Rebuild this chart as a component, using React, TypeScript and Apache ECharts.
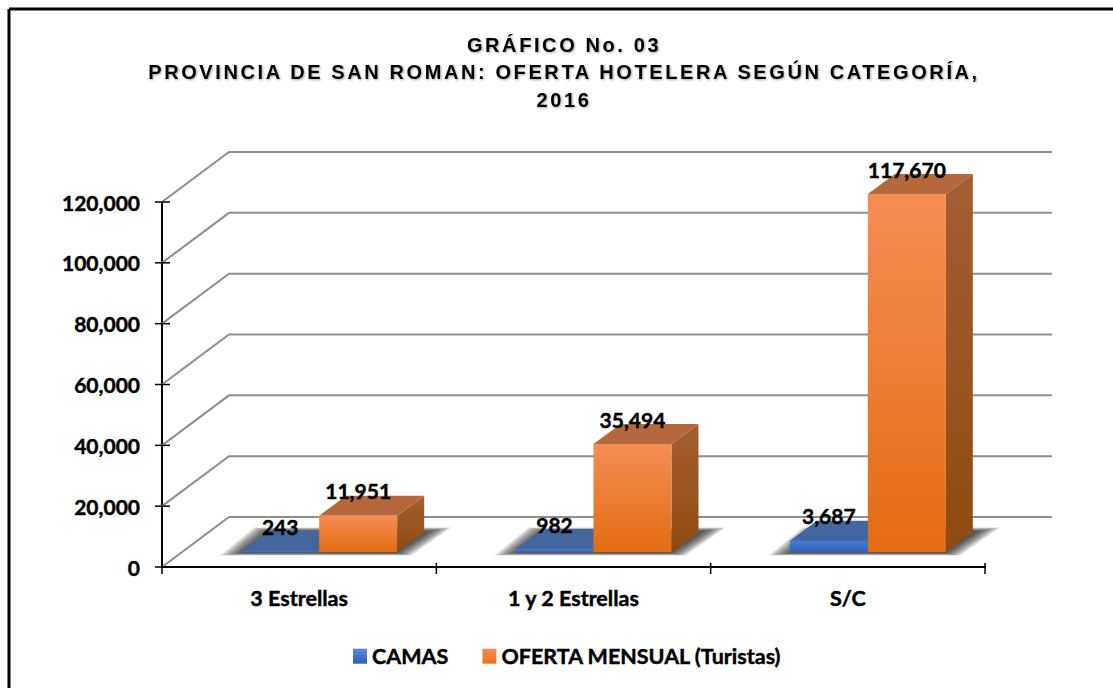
import React, { useEffect, useRef } from "react";
import * as echarts from "echarts";

const categories = ["3 Estrellas", "1 y 2 Estrellas", "S/C"];
const camas = [243, 982, 3687];
const oferta = [11951, 35494, 117670];
const yTicks = [0, 20000, 40000, 60000, 80000, 100000, 120000];
const titleLines = [
  "GRÁFICO No. 03",
  "PROVINCIA DE SAN ROMAN: OFERTA HOTELERA SEGÚN CATEGORÍA,",
  "2016",
];
const seriesNames = ["CAMAS", "OFERTA MENSUAL (Turistas)"];

const FONT = "Lato";
const DEPTH_X = 67;
const DEPTH_Y = -50;
const BAR_W = 78;
const BASE_DX = 20;
const BASE_DY = -15;
const BAR_DX = 27;
const BAR_DY = -20;
const GRID_COLOR = "#8e8e8e";
const SHADOW_LAYERS = [7, 6, 5, 4, 3, 2, 1, 0];
const heavy = { textBorderColor: "#000", textBorderWidth: 0.45 };

const lg = (a: string, b: string, horizontal = false) =>
  new echarts.graphic.LinearGradient(0, 0, horizontal ? 1 : 0, horizontal ? 0 : 1, [
    { offset: 0, color: a },
    { offset: 1, color: b },
  ]);

const palette = [
  {
    front: () => lg("#4a7bd4", "#2f62bb"),
    top: () => "#44669f",
    side: () => lg("#3c5c96", "#2f4f88"),
    legend: () => lg("#5b86d8", "#2c5fb8"),
  },
  {
    front: () => lg("#f58d54", "#e36c12"),
    top: () => "#b5683c",
    side: () => lg("#a55f33", "#8f4a10"),
    legend: () => lg("#f58d54", "#ee7018"),
  },
];

function frameItem(_: any, api: any) {
  const tick = api.value(0);
  const [x0, y] = api.coord([0, tick]);
  const band = api.size([1, 0])[0];
  const left = x0 - band / 2;
  const right = left + band * categories.length;
  const children: any[] = [
    {
      type: "polyline",
      shape: {
        points: [
          [left, y],
          [left + DEPTH_X, y + DEPTH_Y],
          [right + DEPTH_X, y + DEPTH_Y],
        ],
      },
      style: { stroke: GRID_COLOR, lineWidth: 2, fill: "none" },
    },
    {
      type: "line",
      z2: 30,
      shape: { x1: left - 7, y1: y, x2: left + 8, y2: y },
      style: { stroke: "#000", lineWidth: 1.5 },
    },
  ];
  return { type: "group", children };
}

function xTickItem(_: any, api: any) {
  const i = api.value(0);
  const [cx, y] = api.coord([i, 0]);
  const band = api.size([1, 0])[0];
  const x = cx - band / 2;
  const lines = [x];
  if (i === categories.length - 1) lines.push(x + band);
  return {
    type: "group",
    children: lines.map((lx) => ({
      type: "line",
      shape: { x1: lx, y1: y - 4, x2: lx, y2: y + 7 },
      style: { stroke: "#000", lineWidth: 1.5 },
    })),
  };
}

function shadowItem(_: any, api: any) {
  const [cx, y0] = api.coord([api.value(0), 0]);
  const bx = cx + BASE_DX;
  const by = y0 + BASE_DY;
  return {
    type: "group",
    children: SHADOW_LAYERS.map((k) => ({
      type: "polygon",
      shape: {
        points: [
          [bx - BAR_W - k * 3, by + 1 + k * 0.35],
          [bx - BAR_W + BAR_DX - k * 2, by + BAR_DY - 1 - k * 0.5],
          [bx + BAR_W + BAR_DX + 6 + k * 3, by + BAR_DY - 1 - k * 0.5],
          [bx + BAR_W + k * 2, by + 1 + k * 0.35],
        ],
      },
      style: { fill: "rgba(20,20,20,0.14)" },
    })),
  };
}

const barItem = (idx: number) => (_: any, api: any) => {
  const cat = api.value(0);
  const v = api.value(1);
  const [cx, y0] = api.coord([cat, 0]);
  const yv = api.coord([cat, v])[1];
  const x0 = cx + BASE_DX + (idx === 0 ? -BAR_W : 0);
  const x1 = x0 + BAR_W;
  const yb = y0 + BASE_DY;
  const yt = yv + BASE_DY;
  const c = palette[idx];
  return {
    type: "group",
    children: [
      {
        type: "polygon",
        shape: { points: [[x1, yb], [x1 + BAR_DX, yb + BAR_DY], [x1 + BAR_DX, yt + BAR_DY], [x1, yt]] },
        style: { fill: c.side() },
      },
      {
        type: "polygon",
        shape: { points: [[x0, yt], [x0 + BAR_DX, yt + BAR_DY], [x1 + BAR_DX, yt + BAR_DY], [x1, yt]] },
        style: { fill: c.top() },
      },
      {
        type: "rect",
        shape: { x: x0, y: yt, width: BAR_W, height: Math.max(yb - yt, 1) },
        style: { fill: c.front() },
      },
      {
        type: "text",
        z2: 40,
        style: {
          x: (x0 + x1) / 2,
          y: yt - 25,
          text: v.toLocaleString("en-US"),
          fill: "#000",
          stroke: "#000",
          lineWidth: 0.45,
          font: `bold 21px ${FONT}`,
          align: "center",
          verticalAlign: "middle",
        },
      },
    ],
  };
};

export default function App() {
  const ref = useRef<HTMLDivElement>(null);
  useEffect(() => {
    const chart = echarts.init(ref.current!, undefined, { renderer: "svg" });
    chart.setOption({
      animation: false,
      backgroundColor: "#fff",
      title: {
        text: titleLines.join("\n"),
        left: 559,
        textAlign: "center",
        top: 26,
        textStyle: {
          fontFamily: "Liberation Sans",
          fontWeight: "bold",
          fontSize: 20,
          lineHeight: 27.5,
          color: "#000",
          textShadowColor: "rgba(0,0,0,0.35)",
          textShadowBlur: 2,
          textShadowOffsetX: 1,
          textShadowOffsetY: 1,
        },
      },
      legend: {
        left: 353,
        top: 645,
        padding: 0,
        itemWidth: 14,
        itemHeight: 15,
        itemGap: 34,
        icon: "rect",
        textStyle: { fontFamily: FONT, fontWeight: "bold", fontSize: 21.5, color: "#000", ...heavy },
        data: seriesNames.map((name, i) => ({ name, itemStyle: { color: palette[i].legend() } })),
      },
      grid: { left: 162, right: 128, top: 202, height: 365 },
      xAxis: {
        type: "category",
        data: categories,
        axisLine: { lineStyle: { color: "#000", width: 2 } },
        axisTick: { show: false },
        axisLabel: { fontFamily: FONT, fontWeight: "bold", fontSize: 21.5, color: "#000", margin: 20, ...heavy },
      },
      yAxis: {
        type: "value",
        min: 0,
        max: 120000,
        interval: 20000,
        splitLine: { show: false },
        axisLine: { show: true, lineStyle: { color: "#000", width: 2 } },
        axisTick: { show: false },
        axisLabel: {
          fontFamily: FONT,
          fontWeight: "bold",
          fontSize: 21,
          color: "#000",
          margin: 22,
          ...heavy,
          formatter: (v: number) => v.toLocaleString("en-US"),
        },
      },
      series: [
        { type: "custom", name: "frame", silent: true, z: 1, renderItem: frameItem, data: yTicks.map((t) => [t]), encode: { y: 0 } },
        { type: "custom", name: "xticks", silent: true, z: 6, renderItem: xTickItem, data: categories.map((_, i) => [i]) },
        { type: "custom", name: "shadow", silent: true, z: 2, renderItem: shadowItem, data: categories.map((_, i) => [i]) },
        { type: "custom", name: seriesNames[0], z: 3, renderItem: barItem(0), itemStyle: { color: "#4472c4" }, data: camas.map((v, i) => [i, v]) },
        { type: "custom", name: seriesNames[1], z: 4, renderItem: barItem(1), itemStyle: { color: "#ed7d31" }, data: oferta.map((v, i) => [i, v]) },
      ],
      graphic: [
        { type: "line", shape: { x1: 9, y1: 9, x2: 1113, y2: 9 }, style: { stroke: "#000", lineWidth: 3 } },
        { type: "line", shape: { x1: 9, y1: 9, x2: 9, y2: 688 }, style: { stroke: "#000", lineWidth: 3 } },
      ],
    });
    ref.current!.querySelectorAll("text").forEach((t) => {
      if (titleLines.includes((t.textContent || "").trim())) {
        (t as SVGTextElement).style.letterSpacing = "2.6px";
      }
    });
    return () => chart.dispose();
  }, []);
  return <div ref={ref} style={{ position: "fixed", left: 0, top: 0, width: 1113, height: 688 }} />;
}
